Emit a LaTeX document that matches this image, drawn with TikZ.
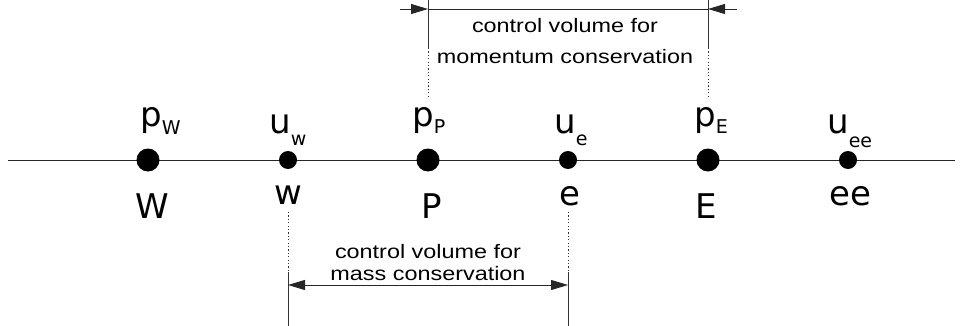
\documentclass[tikz,border=0pt]{standalone}
\usepackage{fontspec}
\setmainfont{DejaVu Sans}
\newfontfamily\cvfont[FakeStretch=1.2]{Liberation Sans}
\usetikzlibrary{arrows.meta}
\newcommand{\lbl}[3]{{\fontsize{34}{34}\selectfont #1}\raisebox{-#3pt}{\fontsize{19}{19}\selectfont #2}}
\begin{document}
\begin{tikzpicture}[x=1pt,y=-1pt,
  bigdot/.style={circle,fill=black,inner sep=0pt,minimum size=23pt},
  smalldot/.style={circle,fill=black,inner sep=0pt,minimum size=18pt},
  toplbl/.style={anchor=base west,inner sep=0pt},
  botlbl/.style={anchor=base,inner sep=0pt,font=\fontsize{34}{34}\selectfont},
  cvtext/.style={anchor=base,inner sep=0pt,font=\cvfont\fontsize{19.5}{19.5}\selectfont},
  guide/.style={line width=0.8pt,black!80},
  dotguide/.style={line width=0.8pt,black!80,dash pattern=on 1.2pt off 2.2pt},
  dim/.style={line width=0.9pt,black!85},
  tip/.style={-{Triangle[length=17pt,width=10pt]}}]
\useasboundingbox (0,0) rectangle (963,326);
% main axis
\coordinate (L) at (8,160);
\coordinate (R) at (955,160);
\draw[line width=0.9pt,black!85] (L) -- (R);
% grid points
\node[bigdot] (W) at (148,160) {};
\node[smalldot] (w) at (288,160) {};
\node[bigdot] (P) at (428,160) {};
\node[smalldot] (e) at (568,160) {};
\node[bigdot] (E) at (708,160) {};
\node[smalldot] (ee) at (848,160) {};
% upper labels
\node[toplbl] (lpW) at (140,126) {\lbl{p}{W}{9}};
\node[toplbl] (luw) at (269,133) {\lbl{u}{w}{12}};
\node[toplbl] (lpP) at (412,126) {\lbl{p}{P}{8}};
\node[toplbl] (lue) at (554,133) {\lbl{u}{e}{12}};
\node[toplbl] (lpE) at (694,126) {\lbl{p}{E}{8}};
\node[toplbl] (luee) at (827,133) {\lbl{u}{ee}{14}};
% lower labels
\node[botlbl] (tW) at (152,218) {W};
\node[botlbl] (tw) at (288,204) {w};
\node[botlbl] (tP) at (432,218) {P};
\node[botlbl] (te) at (570,205) {e};
\node[botlbl] (tE) at (706,218) {E};
\node[botlbl] (tee) at (850,205) {ee};
% momentum control volume (top)
\coordinate (mPtop) at (428,0);
\coordinate (mPmid) at (428,48);
\coordinate (mPbot) at (428,96);
\coordinate (mEtop) at (708,0);
\coordinate (mEmid) at (708,48);
\coordinate (mEbot) at (708,96);
\draw[guide] (mPtop) -- (mPmid);
\draw[dotguide] (mPmid) -- (mPbot);
\draw[guide] (mEtop) -- (mEmid);
\draw[dotguide] (mEmid) -- (mEbot);
\coordinate (mL) at (400,9);
\coordinate (mA) at (428,9);
\coordinate (mB) at (708,9);
\coordinate (mR) at (737,9);
\draw[dim] (mA) -- (mB);
\draw[dim,tip] (mL) -- (mA);
\draw[dim,tip] (mR) -- (mB);
\node[cvtext] (mt1) at (565,33) {control volume for};
\node[cvtext] (mt2) at (565,64) {momentum conservation};
% mass control volume (bottom)
\coordinate (cwtop) at (288,212);
\coordinate (cwmid) at (288,272);
\coordinate (cwbot) at (288,326);
\coordinate (cetop) at (568,212);
\coordinate (cemid) at (568,272);
\coordinate (cebot) at (568,326);
\draw[dotguide] (cwtop) -- (cwmid);
\draw[guide] (cwmid) -- (cwbot);
\draw[dotguide] (cetop) -- (cemid);
\draw[guide] (cemid) -- (cebot);
\coordinate (ca) at (288,285);
\coordinate (cb) at (568,285);
\draw[dim,{Triangle[length=17pt,width=10pt]}-{Triangle[length=17pt,width=10pt]}] (ca) -- (cb);
\node[cvtext] (ct1) at (428,258) {control volume for};
\node[cvtext] (ct2) at (428,280) {mass conservation};
\end{tikzpicture}
\end{document}
